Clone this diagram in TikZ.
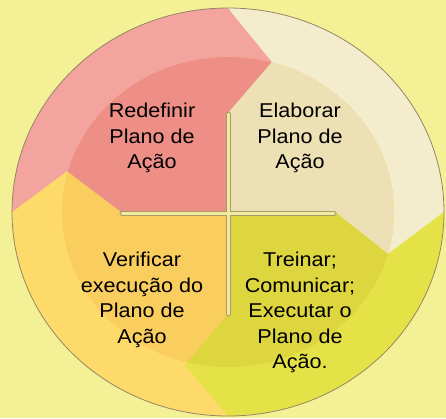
\documentclass[tikz,border=0pt]{standalone}
\usepackage{fontspec}
\setmainfont{Liberation Sans}[FakeStretch=1.08]
\definecolor{bgc}{RGB}{243,240,150}
\definecolor{pinkO}{RGB}{244,164,158}
\definecolor{pinkI}{RGB}{237,143,135}
\definecolor{creamO}{RGB}{243,236,205}
\definecolor{creamI}{RGB}{236,224,180}
\definecolor{orangeO}{RGB}{253,218,105}
\definecolor{orangeI}{RGB}{250,205,95}
\definecolor{greenO}{RGB}{229,226,72}
\definecolor{greenI}{RGB}{222,214,62}
\definecolor{rimc}{RGB}{150,135,100}
\definecolor{crossout}{RGB}{170,155,100}
\definecolor{crossin}{RGB}{240,235,160}
\tikzset{
  lbl/.style={align=center, anchor=north, inner sep=0pt, text=black,
    font=\fontsize{20}{25.5}\selectfont},
  crossedge/.style={line width=5pt, crossout, line cap=round},
  crossfill/.style={line width=3pt, crossin, line cap=round},
}
\begin{document}
\begin{tikzpicture}[x=1pt,y=-1pt]
\fill[bgc] (0,0) rectangle (446,418);
\useasboundingbox (0,0) rectangle (446,418);
\coordinate (C) at (228,212);
% chevron points
\coordinate (T0) at (228,8);   \coordinate (T1) at (272,62);  \coordinate (T2) at (228,113);
\coordinate (R0) at (444,212); \coordinate (R1) at (388,254); \coordinate (R2) at (335,212);
\coordinate (B0) at (228,416); \coordinate (B1) at (185,365); \coordinate (B2) at (228,314);
\coordinate (L0) at (12,212);  \coordinate (L1) at (67,171);  \coordinate (L2) at (121,212);
\coordinate (TE) at (199,-30); \coordinate (RE) at (470,212);
\coordinate (BE) at (258,450); \coordinate (LE) at (-20,212);
% outer ring
\begin{scope}
  \clip (C) ellipse [x radius=216pt, y radius=204pt];
  \fill[orangeO] (-30,-30) rectangle (480,460);
  \fill[pinkO] (C) -- (L2) -- (L1) -- (L0) -- (LE) -- (-20,-30) -- (TE) -- (T0) -- (T1) -- (T2) -- cycle;
  \fill[creamO] (C) -- (T2) -- (T1) -- (T0) -- (TE) -- (470,-30) -- (RE) -- (R0) -- (R1) -- (R2) -- cycle;
  \fill[greenO] (C) -- (R2) -- (R1) -- (R0) -- (RE) -- (470,450) -- (BE) -- (B0) -- (B1) -- (B2) -- cycle;
\end{scope}
% inner disc
\begin{scope}
  \clip (C) ellipse [x radius=166pt, y radius=155pt];
  \fill[orangeI] (-30,-30) rectangle (480,460);
  \fill[pinkI] (C) -- (L2) -- (L1) -- (L0) -- (LE) -- (-20,-30) -- (TE) -- (T0) -- (T1) -- (T2) -- cycle;
  \fill[creamI] (C) -- (T2) -- (T1) -- (T0) -- (TE) -- (470,-30) -- (RE) -- (R0) -- (R1) -- (R2) -- cycle;
  \fill[greenI] (C) -- (R2) -- (R1) -- (R0) -- (RE) -- (470,450) -- (BE) -- (B0) -- (B1) -- (B2) -- cycle;
\end{scope}
\draw[rimc, line width=0.8pt] (C) ellipse [x radius=216pt, y radius=204pt];
% cross
\coordinate (VT) at (228,114); \coordinate (VB) at (228,314);
\coordinate (HL) at (122,213); \coordinate (HR) at (334,213);
\draw[crossedge] (VT) -- (VB);
\draw[crossedge] (HL) -- (HR);
\draw[crossfill] (VT) -- (VB);
\draw[crossfill] (HL) -- (HR);
% labels
\node[lbl] (n1) at (152,103) {Redefinir\\Plano de\\Ação};
\node[lbl] (n2) at (300,103) {Elaborar\\Plano de\\Ação};
\node[lbl] (n3) at (142,252) {Verificar\\execução do\\Plano de\\Ação};
\node[lbl] (n4) at (300,252) {Treinar;\\Comunicar;\\Executar o\\Plano de\\Ação.};
\end{tikzpicture}
\end{document}
